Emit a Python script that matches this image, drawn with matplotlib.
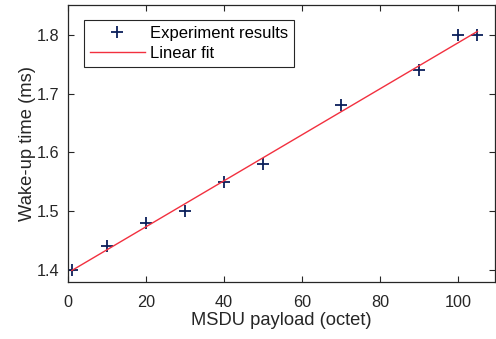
from matplotlib import pyplot as plt
import numpy as np

plt.rcParams['font.family'] = ['Liberation Sans', 'DejaVu Sans']

# measured wake-up time against MSDU payload
payload = np.array([1, 10, 20, 30, 40, 50, 70, 90, 100, 105])
wakeup = np.array([1.40, 1.44, 1.48, 1.50, 1.55, 1.58, 1.68, 1.74, 1.80, 1.80])

xticks = [0, 20, 40, 60, 80, 100]
yticks = [1.4, 1.5, 1.6, 1.7, 1.8]


def graficar():
    fig = plt.figure(figsize=(4.96, 3.39), dpi=100)
    ax = fig.add_axes([0.137, 0.168, 0.861, 0.817])

    # least squares fit over the measured range
    a, b = np.polyfit(payload, wakeup, 1)
    xf = np.array([payload.min(), payload.max()])

    ax.plot(payload, wakeup, '+', color='#0b1f5a', markersize=8.5,
            markeredgewidth=1.3, label='Experiment results')
    ax.plot(xf, a * xf + b, '-', color='#f2303f', linewidth=1.0,
            label='Linear fit')

    ax.set_xlim(0, 109.5)
    ax.set_ylim(1.379, 1.851)
    ax.set_xticks(xticks)
    ax.set_yticks(yticks)
    ax.set_yticklabels(['%.1f' % t for t in yticks])
    ax.tick_params(direction='in', top=True, right=True, length=4,
                   width=0.8, color='#262626', labelsize=11.7,
                   labelcolor='#262626')
    ax.tick_params(axis='x', pad=9)
    ax.tick_params(axis='y', pad=6)
    for s in ax.spines.values():
        s.set_color('#262626')
        s.set_linewidth(0.9)

    ax.set_xlabel('MSDU payload (octet)', fontsize=13.2, color='#262626', labelpad=2)
    ax.set_ylabel('Wake-up time (ms)', fontsize=13.2, color='#262626', labelpad=1)

    leg = ax.legend(loc='upper left', bbox_to_anchor=(0.0375, 0.946),
                    fontsize=12, fancybox=False, framealpha=1,
                    edgecolor='#262626', borderpad=0.35, handlelength=3.3,
                    labelspacing=0.3, handletextpad=0.3, borderaxespad=0)
    leg.get_frame().set_linewidth(0.8)

    fig.savefig('out.png', dpi=100)


graficar()
